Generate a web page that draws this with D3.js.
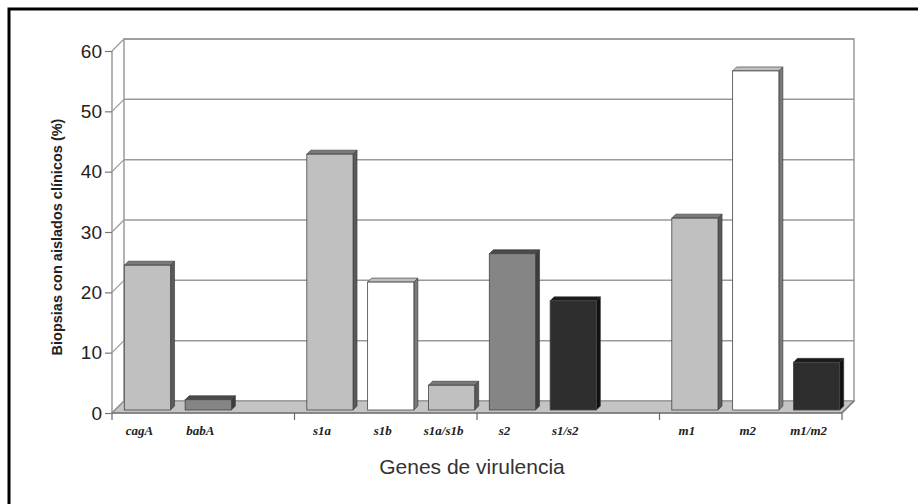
<!DOCTYPE html>
<meta charset="utf-8">
<script src="https://d3js.org/d3.v7.min.js"></script>
<style>
    body { margin: 0; background: #fff; }
    .tick text { fill: #222; }
    .axis path { display: none; }
</style>
<body>
<svg width="918" height="504" class="chart"></svg>
</body>
<script>
    // slot labels, "" = empty slot between groups
    const labels = ['cagA', 'babA', '', 's1a', 's1b', 's1a/s1b', 's2', 's1/s2', '', 'm1', 'm2', 'm1/m2'];
    const values = [24, 1.7, null, 42.4, 21.2, 4.1, 25.9, 18.1, null, 31.8, 56.2, 7.9];
    const shades = ['light', 'mid', null, 'light', 'white', 'light', 'mid', 'dark', null, 'light', 'white', 'dark'];
    const yTicks = [0, 10, 20, 30, 40, 50, 60];

    const palette = {
        light: { front: '#c0c0c0', top: '#7a7a7a', side: '#5a5a5a' },
        mid:   { front: '#858585', top: '#4a4a4a', side: '#3c3c3c' },
        white: { front: '#ffffff', top: '#c0c0c0', side: '#7a7a7a' },
        dark:  { front: '#2e2e2e', top: '#1a1a1a', side: '#101010' }
    };

    const svg = d3.select('.chart');

    // outer frame (cropped on the right and bottom)
    svg.append('rect')
        .attr('x', 9).attr('y', 9)
        .attr('width', 940).attr('height', 520)
        .attr('fill', 'none').attr('stroke', '#000').attr('stroke-width', 3);

    const x0 = 112, x1 = 842, yBase = 413;
    const wall = { dx: 12, dy: -12 };   // depth of the back wall
    const bar = { dx: 5, dy: -3, d: 4 }; // bar front offset and bar depth

    const x = d3.scaleBand().domain(d3.range(labels.length)).range([x0, x1]).paddingInner(0).paddingOuter(0);
    const y = d3.scaleLinear().domain([0, 60]).range([yBase, 51]);
    const slot = d3.scaleLinear().domain([0, labels.length]).range([x0, x1]);

    const g = svg.append('g');
    const grid = '#9a9a9a';

    // back wall
    g.append('rect')
        .attr('x', x0 + wall.dx).attr('y', y(60) + wall.dy)
        .attr('width', x1 - x0).attr('height', y(0) - y(60))
        .attr('fill', '#fff').attr('stroke', grid).attr('stroke-width', 1.5);

    // gridlines on back wall and side wall
    g.selectAll('.grid').data(yTicks.filter(d => d > 0)).enter()
        .append('line')
        .attr('x1', x0 + wall.dx).attr('x2', x1 + wall.dx)
        .attr('y1', d => y(d) + wall.dy).attr('y2', d => y(d) + wall.dy)
        .attr('stroke', grid).attr('stroke-width', 1.5);

    g.selectAll('.side').data(yTicks).enter()
        .append('line')
        .attr('x1', x0).attr('x2', x0 + wall.dx)
        .attr('y1', d => y(d)).attr('y2', d => y(d) + wall.dy)
        .attr('stroke', grid).attr('stroke-width', 1.2);

    // side wall edges
    g.append('line')
        .attr('x1', x0).attr('x2', x0).attr('y1', y(0)).attr('y2', y(60))
        .attr('stroke', grid).attr('stroke-width', 1.5);

    // floor
    g.append('path')
        .attr('d', d3.line()([[x0, yBase], [x1, yBase], [x1 + wall.dx, yBase + wall.dy], [x0 + wall.dx, yBase + wall.dy]]) + 'Z')
        .attr('fill', '#c4c4c4').attr('stroke', '#8a8a8a').attr('stroke-width', 1.2);

    // bars
    const bw = x.bandwidth() * 0.76;
    const data = labels.map((l, i) => ({ i, l, v: values[i], s: shades[i] })).filter(d => d.v !== null);

    const bars = g.selectAll('.bar').data(data).enter().append('g').attr('class', 'bar');

    const fx = d => x(d.i) + (x.bandwidth() - bw) / 2 + bar.dx;
    const fy = d => y(d.v) + bar.dy;
    const by = y(0) + bar.dy;

    bars.append('path') // side
        .attr('d', d => d3.line()([
            [fx(d) + bw, fy(d)], [fx(d) + bw + bar.d, fy(d) - bar.d],
            [fx(d) + bw + bar.d, by - bar.d], [fx(d) + bw, by]]) + 'Z')
        .attr('fill', d => palette[d.s].side).attr('stroke', '#333').attr('stroke-width', 0.6);

    bars.append('path') // top
        .attr('d', d => d3.line()([
            [fx(d), fy(d)], [fx(d) + bar.d, fy(d) - bar.d],
            [fx(d) + bw + bar.d, fy(d) - bar.d], [fx(d) + bw, fy(d)]]) + 'Z')
        .attr('fill', d => palette[d.s].top).attr('stroke', '#333').attr('stroke-width', 0.6);

    bars.append('rect') // front
        .attr('x', fx).attr('y', fy)
        .attr('width', bw).attr('height', d => by - fy(d))
        .attr('fill', d => palette[d.s].front).attr('stroke', '#444').attr('stroke-width', 0.8);

    // category axis
    g.append('line')
        .attr('x1', x0).attr('x2', x1).attr('y1', yBase).attr('y2', yBase)
        .attr('stroke', '#777').attr('stroke-width', 1.5);
    g.append('line')
        .attr('x1', x1).attr('x2', x1 + wall.dx).attr('y1', yBase).attr('y2', yBase + wall.dy)
        .attr('stroke', '#777').attr('stroke-width', 1.2);

    g.selectAll('.xtick').data(d3.range(0, labels.length + 1, 3)).enter()
        .append('line')
        .attr('x1', d => slot(d)).attr('x2', d => slot(d))
        .attr('y1', yBase).attr('y2', yBase + 7)
        .attr('stroke', '#666').attr('stroke-width', 1.2);

    g.append('g')
        .attr('class', 'axis')
        .attr('transform', 'translate(-3,' + (yBase + 10) + ')')
        .call(d3.axisBottom(x).tickSize(0).tickFormat(i => labels[i]))
        .selectAll('text')
        .style('font-family', '"Liberation Serif", "DejaVu Serif", serif')
        .style('font-style', 'italic')
        .style('font-weight', 'bold')
        .style('font-size', '13px')
        .attr('fill', '#222');

    // value axis
    g.append('g')
        .attr('class', 'axis')
        .attr('transform', 'translate(' + x0 + ',0)')
        .call(d3.axisLeft(y).tickValues(yTicks).tickSize(7).tickPadding(3).tickFormat(d3.format('d')))
        .call(a => a.selectAll('line').attr('stroke', '#777').attr('stroke-width', 1.2))
        .selectAll('text')
        .style('font-family', '"Liberation Sans", Arial, sans-serif')
        .style('font-size', '19px')
        .attr('fill', '#222');

    // titles
    svg.append('text')
        .attr('transform', 'translate(62,237) rotate(-90)')
        .attr('text-anchor', 'middle')
        .style('font-family', '"Liberation Sans", Arial, sans-serif')
        .style('font-weight', 'bold')
        .style('font-size', '14.5px')
        .attr('fill', '#222')
        .text('Biopsias con aislados clínicos (%)');

    svg.append('text')
        .attr('x', 472).attr('y', 474)
        .attr('text-anchor', 'middle')
        .style('font-family', '"Liberation Sans", Arial, sans-serif')
        .style('font-size', '21px')
        .attr('fill', '#333')
        .text('Genes de virulencia');
</script>
